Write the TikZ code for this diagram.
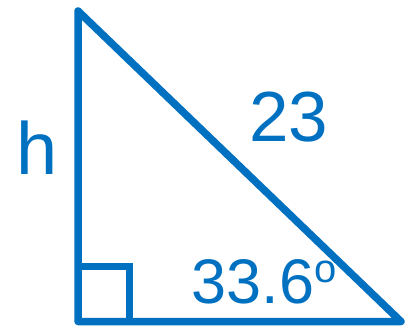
\documentclass[tikz,border=0pt]{standalone}
\usepackage{fontspec}
\setmainfont{Liberation Sans}
\definecolor{tblue}{HTML}{0070C0}
\begin{document}
\begin{tikzpicture}[x=1pt,y=-1pt,
  edge/.style={draw=tblue,line width=7.5pt,line join=round,line cap=round},
  lbl/.style={text=tblue,inner sep=0pt,anchor=base}]
\useasboundingbox (0,0) rectangle (410,327);
\coordinate (A) at (78,11);
\coordinate (B) at (78,321.5);
\coordinate (C) at (401,321.5);
\coordinate (S1) at (78,266.5);
\coordinate (S2) at (129.5,266.5);
\coordinate (S3) at (129.5,321.5);
\draw[edge] (A) -- (B) -- (C) -- cycle;
\draw[edge,line cap=butt,line join=miter] (S1) -- (S2) -- (S3);
\node[lbl,font=\fontsize{74}{74}\selectfont] (h) at (37.5,174) {h};
\node[lbl,font=\fontsize{71}{71}\selectfont] (l) at (289,141.7) {23};
\node[lbl,font=\fontsize{63}{63}\selectfont] (ang) at (264,303) {33.6\raisebox{20.5pt}{\fontsize{40}{40}\selectfont o}};
\end{tikzpicture}
\end{document}
